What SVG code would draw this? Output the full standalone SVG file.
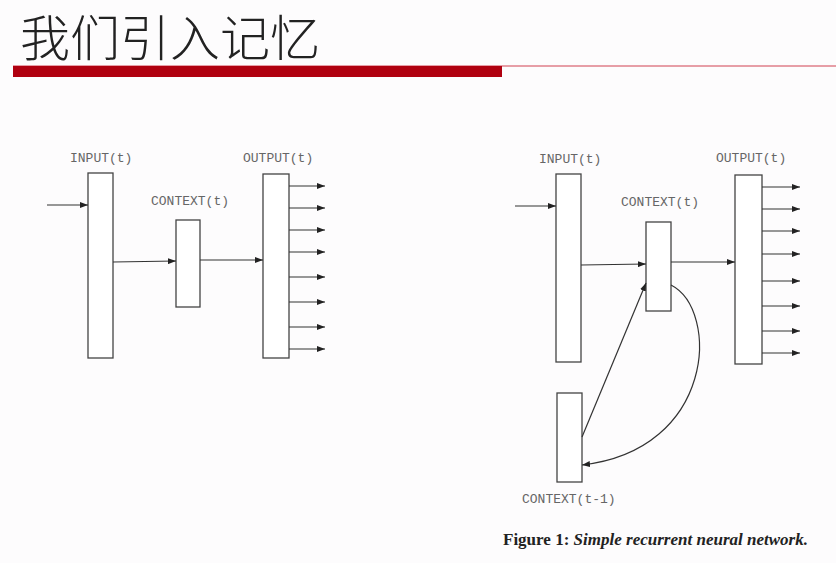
<svg xmlns="http://www.w3.org/2000/svg" width="836" height="563" viewBox="0 0 836 563">
<style>
.b{fill:#fff;stroke:#444;stroke-width:1.3}
.l{fill:none;stroke:#333;stroke-width:1.2}
.t{font-family:"Liberation Mono",monospace;font-size:13px;fill:#666}
</style>
<defs><marker id="a" markerWidth="8" markerHeight="6" refX="8" refY="3" orient="auto" markerUnits="userSpaceOnUse"><path d="M0,0L8,3L0,6Z" fill="#222"/></marker></defs>
<rect width="836" height="563" fill="#fdfcfd"/>
<g id="title">
<text x="20" y="56" font-family="'Noto Sans CJK SC',sans-serif" font-size="49" font-weight="300" fill="#222" textLength="300" lengthAdjust="spacingAndGlyphs">我们引入记忆</text>
<line x1="13" y1="66" x2="836" y2="66" stroke="#d04050" stroke-width="1"/>
<rect x="13" y="66" width="489" height="11" fill="#b00010"/>
</g>
<g id="l-input"><rect class="b" x="88" y="173" width="25" height="185"/><text class="t" x="70" y="162">INPUT(t)</text></g>
<g id="l-context"><rect class="b" x="176" y="220" width="24" height="87"/><text class="t" x="151" y="205">CONTEXT(t)</text></g>
<g id="l-output"><rect class="b" x="263" y="174" width="26" height="184"/><text class="t" x="243" y="162">OUTPUT(t)</text></g>
<g id="r-input"><rect class="b" x="556" y="174" width="25" height="188"/><text class="t" x="539" y="163">INPUT(t)</text></g>
<g id="r-context"><rect class="b" x="646" y="222" width="25" height="89"/><text class="t" x="621" y="206">CONTEXT(t)</text></g>
<g id="r-output"><rect class="b" x="735" y="175" width="27" height="189"/><text class="t" x="716" y="162">OUTPUT(t)</text></g>
<g id="r-context-prev"><rect class="b" x="557" y="393" width="25" height="89"/><text class="t" x="522" y="503">CONTEXT(t-1)</text></g>
<g id="connectors">
<path class="l" marker-end="url(#a)" d="M47,205H88"/>
<path class="l" marker-end="url(#a)" d="M113,262L176,261"/>
<path class="l" marker-end="url(#a)" d="M200,260H263"/>
<path class="l" marker-end="url(#a)" d="M289,186H325"/>
<path class="l" marker-end="url(#a)" d="M289,208H325"/>
<path class="l" marker-end="url(#a)" d="M289,230H325"/>
<path class="l" marker-end="url(#a)" d="M289,252H325"/>
<path class="l" marker-end="url(#a)" d="M289,277H325"/>
<path class="l" marker-end="url(#a)" d="M289,302H325"/>
<path class="l" marker-end="url(#a)" d="M289,327H325"/>
<path class="l" marker-end="url(#a)" d="M289,349H325"/>
<path class="l" marker-end="url(#a)" d="M515,206H556"/>
<path class="l" marker-end="url(#a)" d="M581,265L646,264"/>
<path class="l" marker-end="url(#a)" d="M671,262H735"/>
<path class="l" marker-end="url(#a)" d="M762,187H800"/>
<path class="l" marker-end="url(#a)" d="M762,209H800"/>
<path class="l" marker-end="url(#a)" d="M762,231H800"/>
<path class="l" marker-end="url(#a)" d="M762,254H800"/>
<path class="l" marker-end="url(#a)" d="M762,281H800"/>
<path class="l" marker-end="url(#a)" d="M762,306H800"/>
<path class="l" marker-end="url(#a)" d="M762,331H800"/>
<path class="l" marker-end="url(#a)" d="M762,353H800"/>
<path class="l" marker-end="url(#a)" d="M582,437L646,283"/>
<path class="l" marker-end="url(#a)" d="M671,285C720,310 715,450 582,465"/>
</g>
<text x="503" y="545" font-family="'Liberation Serif',serif" font-size="17" fill="#222" textLength="305" lengthAdjust="spacingAndGlyphs"><tspan font-weight="bold">Figure 1:</tspan> <tspan font-style="italic" font-weight="bold">Simple recurrent neural network.</tspan></text>
</svg>
